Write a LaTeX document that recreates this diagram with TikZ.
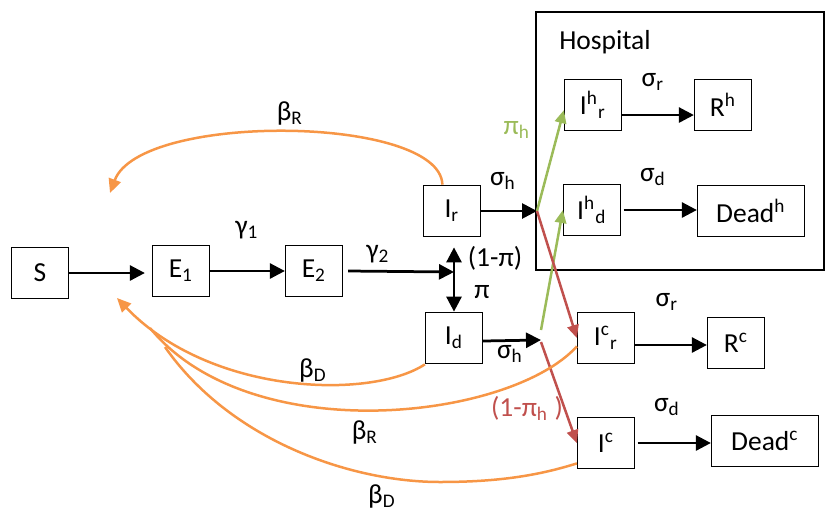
\documentclass[tikz,border=0pt]{standalone}
\usepackage{fontspec}
\setmainfont{Carlito}
\usetikzlibrary{arrows.meta}
\definecolor{orng}{HTML}{F79646}
\definecolor{grn}{HTML}{9BBB59}
\definecolor{rd}{HTML}{C0504D}

\begin{document}
\begin{tikzpicture}[x=0.4pt,y=-0.4pt,
  font=\fontsize{11}{13}\selectfont,
  box/.style={draw, line width=0.5pt, inner sep=0pt, minimum width=22.8pt, minimum height=20.6pt},
  widebox/.style={box, minimum width=42.8pt},
  flow/.style={-{Triangle[length=6pt,width=6pt]}, line width=1.1pt},
  infect/.style={orng, line width=1pt, -{Triangle[length=5.6pt,width=5pt]}},
  infectline/.style={orng, line width=1pt},
  tohosp/.style={grn, line width=1pt, -{Triangle[length=5.2pt,width=4.6pt]}},
  tocomm/.style={rd, line width=1pt, -{Triangle[length=5.2pt,width=4.6pt]}}]
\useasboundingbox (0,0) rectangle (826,514);

\draw[line width=0.45pt] (536,12) rectangle (824,270);
\node (hosp) at (605,42) {Hospital};

\node[box] (S) at (40,273) {S};
\node[box] (E1) at (181,271) {E\textsubscript{1}};
\node[box] (E2) at (314,271) {E\textsubscript{2}};
\node[box] (Ir) at (452,211) {I\textsubscript{r}};
\node[box] (Id) at (454,338) {I\textsubscript{d}};
\node[box] (Ihr) at (593,105) {I\textsuperscript{h}\textsubscript{r}};
\node[box] (Rh) at (723,105) {R\textsuperscript{h}};
\node[box] (Ihd) at (592,210) {I\textsuperscript{h}\textsubscript{d}};
\node[widebox] (Deadh) at (751,211) {Dead\textsuperscript{h}};
\node[box] (Icr) at (606,338) {I\textsuperscript{c}\textsubscript{r}};
\node[box] (Rc) at (736,343) {R\textsuperscript{c}};
\node[box] (Ic) at (606,443) {I\textsuperscript{c}};
\node[widebox] (Deadc) at (765,441) {Dead\textsuperscript{c}};

\coordinate (split) at (454,272);
\coordinate (jr) at (537,211);
\coordinate (jd) at (541,340);
\coordinate (topback) at (110,193);
\coordinate (sback) at (117,298);
\coordinate (mergeR) at (150,328);
\coordinate (mergeD) at (165,347);

\draw[flow, shorten >=2.8pt] (S.east) -- (S.east -| E1.west);
\draw[flow] (E1.east) -- (E2.west);
\draw[flow] ([xshift=2pt]E2.east) -- (split);
\draw[flow, {Triangle[length=6pt,width=6pt]}-{Triangle[length=6pt,width=6pt]}, shorten <=4pt] (Ir.south -| Id.north) -- (Id.north);
\draw[flow] (Ir.east) -- (jr);
\draw[flow] ([yshift=-1.2pt]Id.east) -- (jd);
\draw[flow] (Ihr.-19) -- (Ihr.-19 -| Rh.west);
\draw[flow] ([xshift=1pt]Ihd.east) -- (Ihd.east -| Deadh.west);
\draw[flow] ([yshift=-2.8pt]Icr.east) -- ([yshift=-2.8pt]Icr.east -| Rc.west);
\draw[flow] ([xshift=1pt]Ic.east) -- (Ic.east -| Deadc.west);

\draw[tohosp] (jr) -- (Ihr.190);
\draw[tohosp] ([yshift=4pt]jd) -- (Ihd.west);
\draw[tocomm] (jr) -- (Icr.west);
\draw[tocomm] ([yshift=-0.8pt]jd) -- (Ic.west);

\draw[infect] (Ir.110) .. controls (440,115) and (140,112) .. (topback);
\draw[infect] (Id.south west) .. controls (370,400) and (210,395) .. (sback);
\draw[infectline] (Icr.196) .. controls (510,420) and (250,450) .. (mergeR);
\draw[infectline] (Ic.215) .. controls (540,475) and (500,482) .. (440,482) .. controls (350,482) and (230,440) .. (mergeD);

\node (g1) at (247,230) {γ\textsubscript{1}};
\node (g2) at (378,254) {γ\textsubscript{2}};
\node (bR1) at (290,113) {β\textsubscript{R}};
\node (sh1) at (503,181) {σ\textsubscript{h}};
\node (pi1) at (495,258) {(1-π)};
\node (pi2) at (482,292) {π};
\node (sh2) at (510,354) {σ\textsubscript{h}};
\node[grn] (pih) at (517,130) {π\textsubscript{h}};
\node[rd] (pihc) at (527,408) {(1-π\textsubscript{h} )};
\node (sr1) at (653,82) {σ\textsubscript{r}};
\node (sd1) at (653,177) {σ\textsubscript{d}};
\node (sr2) at (667,302) {σ\textsubscript{r}};
\node (sd2) at (667,407) {σ\textsubscript{d}};
\node (bD1) at (313,370) {β\textsubscript{D}};
\node (bR2) at (365,432) {β\textsubscript{R}};
\node (bD2) at (382,496) {β\textsubscript{D}};
\end{tikzpicture}
\end{document}
